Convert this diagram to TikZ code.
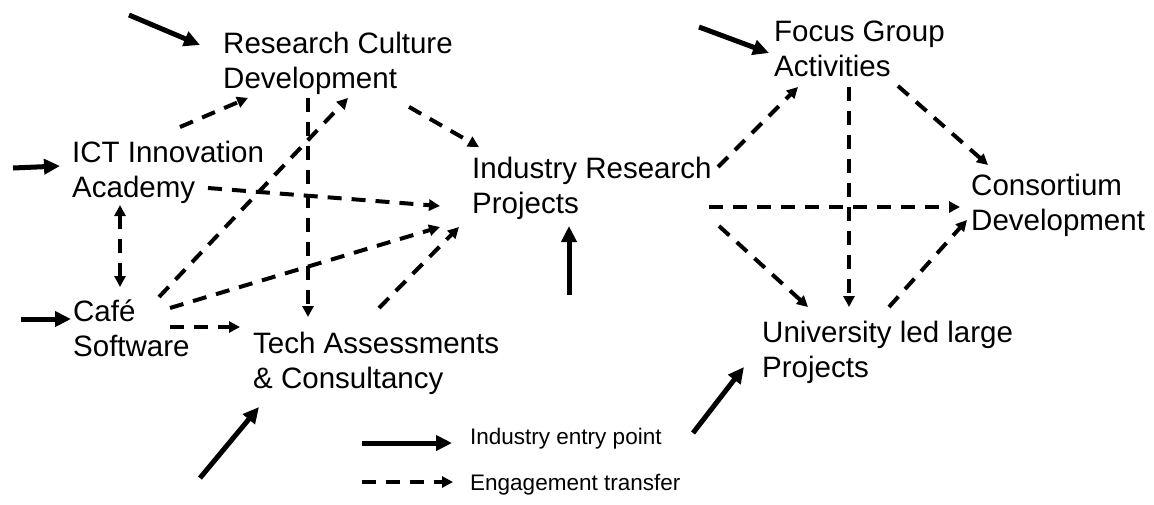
\documentclass[tikz,border=0pt]{standalone}
\usepackage{fontspec}
\setmainfont{Liberation Sans}
\usetikzlibrary{arrows.meta}

\tikzset{
  box/.style={anchor=north west, inner sep=0pt, align=left, font=\fontsize{29.5}{35}\selectfont},
  key/.style={anchor=north west, inner sep=0pt, font=\fontsize{22.5}{27}\selectfont},
  entry/.style={line width=5pt, -{Triangle[length=16pt,width=15pt]}},
  engage/.style={line width=4pt, dash pattern=on 14pt off 10pt, -{Triangle[length=11pt,width=11pt]}},
}

\begin{document}
\begin{tikzpicture}[x=1pt,y=-1pt]
  \useasboundingbox (0,0) rectangle (1154,504);

  \node[box] (rcd) at (223,32) {Research Culture\\Development};
  \node[box] (ict) at (72,141) {ICT Innovation\\Academy};
  \node[box] (cafe) at (73,300) {Café\\Software};
  \node[box] (tech) at (253,332) {Tech Assessments\\\& Consultancy};
  \node[box] (irp) at (472,157) {Industry Research\\Projects};
  \node[box] (fga) at (774,21) {Focus Group\\Activities};
  \node[box] (cons) at (971,174) {Consortium\\Development};
  \node[box] (univ) at (762,321) {University led large\\Projects};

  % entry points
  \coordinate (rcdin) at (129,15);
  \coordinate (ictin) at (13,168);
  \coordinate (cafein) at (21,319);
  \coordinate (techin) at (200,478);
  \coordinate (irpin) at (569,295);
  \coordinate (fgain) at (699,27);
  \coordinate (univin) at (693,433);
  \draw[entry] (rcdin) -- ([shift={(-23,13)}]rcd.north west);
  \draw[entry] (ictin) -- ([shift={(-12,25)}]ict.north west);
  \draw[entry] (cafein) -- ([shift={(-2,19)}]cafe.north west);
  \draw[entry] (techin) -- ([shift={(6,75)}]tech.north west);
  \draw[entry] (irpin) -- ([shift={(97,69)}]irp.north west);
  \draw[entry] (fgain) -- ([shift={(-5,32)}]fga.north west);
  \draw[entry] (univin) -- ([shift={(-18,46)}]univ.north west);

  % transfers
  \draw[engage] ([shift={(108,-14)}]ict.north west) -- ([shift={(25,3)}]rcd.south west);
  \draw[engage] ([shift={(85,3)}]rcd.south west) -- ([shift={(55,-15)}]tech.north west);
  \draw[engage] ([shift={(86,-3)}]cafe.north west) -- ([shift={(125,3)}]rcd.south west);
  \draw[engage] ([shift={(186,12)}]rcd.south west) -- ([shift={(7,-10)}]irp.north west);
  \draw[engage] ([shift={(136,47)}]ict.north west) -- ([shift={(-32,49)}]irp.north west);
  \draw[engage] ([shift={(97,8)}]cafe.north west) -- ([shift={(-32,70)}]irp.north west);
  \draw[engage] ([shift={(126,-24)}]tech.north west) -- ([shift={(-13,70)}]irp.north west);
  \draw[engage, {Triangle[length=11pt,width=11pt]}-{Triangle[length=11pt,width=11pt]}]
    ([shift={(48,64)}]ict.north west) -- ([shift={(47,-13)}]cafe.north west);
  \draw[engage] ([shift={(97,27)}]cafe.north west) -- ([shift={(-13,-5)}]tech.north west);
  \draw[engage] ([shift={(246,10)}]irp.north west) -- ([shift={(24,66)}]fga.north west);
  \draw[engage] ([shift={(75,66)}]fga.north west) -- ([shift={(87,-14)}]univ.north west);
  \draw[engage] ([shift={(124,65)}]fga.north west) -- ([shift={(17,-9)}]cons.north west);
  \draw[engage] ([shift={(237,50)}]irp.north west) -- ([shift={(-11,33)}]cons.north west);
  \draw[engage] ([shift={(247,69)}]irp.north west) -- ([shift={(46,-14)}]univ.north west);
  \draw[engage] ([shift={(127,-14)}]univ.north west) -- ([shift={(-4,46)}]cons.north west);

  % key
  \node[key] (entkey) at (470,428) {Industry entry point};
  \node[key] (engkey) at (470,474) {Engagement transfer};
  \coordinate (entfrom) at (362,443);
  \coordinate (engfrom) at (362,482);
  \draw[entry] (entfrom) -- ([shift={(-18,15)}]entkey.north west);
  \draw[engage] (engfrom) -- ([shift={(-17,8)}]engkey.north west);
\end{tikzpicture}
\end{document}
